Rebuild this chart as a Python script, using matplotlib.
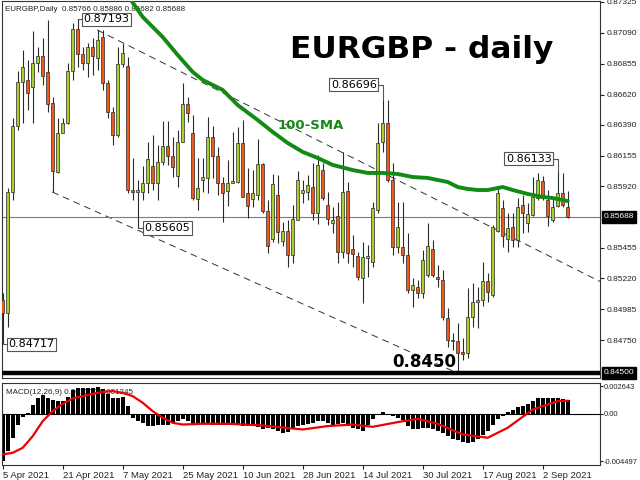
import matplotlib
matplotlib.use("Agg")
import matplotlib.pyplot as plt
import matplotlib.transforms as mtransforms

# daily candles, bar 0 = 5 Apr 2021
opens = [0.85056, 0.84957, 0.85878, 0.86381, 0.86716, 0.86731, 0.86677, 0.86860, 0.86914, 0.86792,
         0.86556, 0.86030, 0.86327, 0.86403, 0.86799, 0.87119, 0.86929, 0.86860, 0.86982, 0.86898,
         0.87058, 0.86708, 0.86487, 0.86312, 0.86853, 0.86837, 0.85893, 0.85878, 0.85878, 0.85946,
         0.86076, 0.85946, 0.86106, 0.86228, 0.86152, 0.86000, 0.86259, 0.86548, 0.86327, 0.85825,
         0.85969, 0.85985, 0.86297, 0.86152, 0.85946, 0.85886, 0.85946, 0.85954, 0.86251, 0.85870,
         0.85825, 0.85855, 0.86091, 0.85733, 0.85520, 0.85855, 0.85505, 0.85581, 0.85398, 0.85665,
         0.85870, 0.85878, 0.85916, 0.85718, 0.86045, 0.85779, 0.85642, 0.85695, 0.85421, 0.85886,
         0.85444, 0.85391, 0.85223, 0.85375, 0.85345, 0.85741, 0.86259, 0.86403, 0.85969, 0.85459,
         0.85459, 0.85398, 0.85132, 0.85155, 0.85109, 0.85246, 0.85444, 0.85231, 0.85208, 0.84918,
         0.84751, 0.84743, 0.84660, 0.84652, 0.84926, 0.85040, 0.85056, 0.85200, 0.85094, 0.85581,
         0.85756, 0.85520, 0.85611, 0.85512, 0.85779, 0.85642, 0.85703, 0.85832, 0.85962, 0.85817,
         0.85665, 0.85771, 0.85870, 0.85766]
highs = [0.85109, 0.85908, 0.86441, 0.86799, 0.86959, 0.86883, 0.87104, 0.86982, 0.87051, 0.87188,
         0.86601, 0.86441, 0.86441, 0.86860, 0.87165, 0.87193, 0.86982, 0.87013, 0.87051, 0.87112,
         0.87112, 0.86731, 0.86525, 0.86982, 0.87013, 0.86906, 0.86137, 0.85969, 0.86076, 0.86259,
         0.86312, 0.86236, 0.86419, 0.86419, 0.86297, 0.86350, 0.86708, 0.86601, 0.86464, 0.86137,
         0.86137, 0.86449, 0.86381, 0.86221, 0.85992, 0.86122, 0.86335, 0.86373, 0.86426, 0.86061,
         0.86045, 0.86282, 0.86099, 0.85817, 0.86015, 0.86007, 0.85649, 0.85665, 0.85779, 0.86038,
         0.85969, 0.86007, 0.86099, 0.86160, 0.86099, 0.85878, 0.85764, 0.85802, 0.86183, 0.85954,
         0.85551, 0.85421, 0.85497, 0.85474, 0.85802, 0.86403, 0.86579, 0.86579, 0.86099, 0.85802,
         0.85802, 0.85566, 0.85223, 0.85208, 0.85436, 0.85642, 0.85512, 0.85322, 0.85284, 0.84995,
         0.84804, 0.84880, 0.84766, 0.85147, 0.85185, 0.85155, 0.85345, 0.85261, 0.85627, 0.85908,
         0.85817, 0.85718, 0.85718, 0.85832, 0.85855, 0.85794, 0.85992, 0.86023, 0.86000, 0.85893,
         0.85840, 0.86030, 0.86023, 0.85886]
lows = [0.84717, 0.84850, 0.85817, 0.86350, 0.86403, 0.86502, 0.86403, 0.86792, 0.86693, 0.86487,
        0.85878, 0.86023, 0.86327, 0.86396, 0.86731, 0.86830, 0.86807, 0.86754, 0.86769, 0.86807,
        0.86655, 0.86441, 0.86236, 0.86297, 0.86830, 0.85870, 0.85817, 0.85605, 0.85817, 0.85870,
        0.85893, 0.85817, 0.86084, 0.86084, 0.85992, 0.85916, 0.86259, 0.86411, 0.85817, 0.85741,
        0.85878, 0.85870, 0.85985, 0.85855, 0.85649, 0.85771, 0.85946, 0.85946, 0.85840, 0.85680,
        0.85764, 0.85817, 0.85718, 0.85413, 0.85497, 0.85489, 0.85466, 0.85307, 0.85337, 0.85665,
        0.85794, 0.85817, 0.85665, 0.85634, 0.85817, 0.85627, 0.85566, 0.85337, 0.85375, 0.85337,
        0.85307, 0.85208, 0.85033, 0.85231, 0.85307, 0.85718, 0.86183, 0.85954, 0.85398, 0.85413,
        0.85337, 0.85109, 0.85002, 0.85071, 0.85071, 0.85231, 0.85231, 0.85155, 0.84903, 0.84698,
        0.84675, 0.84507, 0.84599, 0.84614, 0.84850, 0.84842, 0.85010, 0.85040, 0.85078, 0.85573,
        0.85459, 0.85421, 0.85459, 0.85459, 0.85566, 0.85573, 0.85695, 0.85817, 0.85817, 0.85619,
        0.85649, 0.85764, 0.85764, 0.85682]
closes = [0.84957, 0.85878, 0.86381, 0.86716, 0.86830, 0.86632, 0.86860, 0.86914, 0.86761, 0.86548,
          0.86038, 0.86327, 0.86403, 0.86799, 0.87119, 0.86929, 0.86860, 0.86982, 0.86914, 0.87035,
          0.86708, 0.86487, 0.86312, 0.86853, 0.86936, 0.85893, 0.85878, 0.85893, 0.85946, 0.86129,
          0.85946, 0.86106, 0.86228, 0.86152, 0.86068, 0.86259, 0.86548, 0.86480, 0.85832, 0.85908,
          0.85992, 0.86297, 0.86152, 0.85946, 0.85870, 0.85946, 0.85962, 0.86251, 0.85840, 0.85771,
          0.85870, 0.86091, 0.85733, 0.85466, 0.85939, 0.85573, 0.85581, 0.85398, 0.85672, 0.85969,
          0.85893, 0.85931, 0.85718, 0.86084, 0.85832, 0.85672, 0.85665, 0.85421, 0.85878, 0.85413,
          0.85406, 0.85231, 0.85383, 0.85391, 0.85756, 0.86251, 0.86403, 0.85969, 0.85459, 0.85611,
          0.85398, 0.85132, 0.85170, 0.85109, 0.85360, 0.85466, 0.85246, 0.85215, 0.84926, 0.84751,
          0.84743, 0.84652, 0.84644, 0.84926, 0.85040, 0.85056, 0.85200, 0.85116, 0.85611, 0.85870,
          0.85543, 0.85604, 0.85512, 0.85764, 0.85718, 0.85710, 0.85840, 0.85969, 0.85832, 0.85695,
          0.85764, 0.85870, 0.85779, 0.85688]

# 100 SMA, read at some bars
sma_bars = [25, 28, 32, 35, 38, 40, 44, 47, 51, 54, 57, 60, 63, 66, 70, 73, 76, 79, 82, 85,
            89, 91, 93, 95, 97, 100, 102, 105, 108, 110, 113]
sma_vals = [0.87375, 0.87211, 0.87058, 0.86921, 0.86792, 0.86731, 0.86655, 0.86540, 0.86426, 0.86335,
            0.86251, 0.86183, 0.86137, 0.86084, 0.86045, 0.86023, 0.86023, 0.86015, 0.85992, 0.85985,
            0.85954, 0.85916, 0.85901, 0.85893, 0.85893, 0.85916, 0.85893, 0.85863, 0.85840, 0.85832,
            0.85809]

# MACD histogram per bar and signal line
macd_hist = [-0.0045, -0.00355, -0.00228, -0.00102, -0.00032, 0.0001, 0.0008, 0.00152, 0.00175, 0.00146,
             0.00127, 0.00121, 0.00121, 0.00159, 0.00222, 0.00241, 0.00241, 0.00248, 0.00248, 0.00254,
             0.00232, 0.0019, 0.00146, 0.00146, 0.00159, 0.00073, -0.00038, -0.0007, -0.00092, -0.00117,
             -0.00117, -0.00111, -0.00108, -0.00102, -0.00086, -0.0007, -0.00054, -0.0007, -0.00102, -0.00102,
             -0.00095, -0.00086, -0.00102, -0.00108, -0.00108, -0.00108, -0.00102, -0.00108, -0.00117, -0.00117,
             -0.00117, -0.00127, -0.00143, -0.00133, -0.00149, -0.00165, -0.00181, -0.00171, -0.00149, -0.00117,
             -0.00102, -0.00095, -0.00086, -0.0007, -0.0007, -0.00086, -0.00102, -0.00095, -0.00086, -0.00117,
             -0.00133, -0.00149, -0.00159, -0.00102, -0.00054, -0.00006, 0.00019, -0.00006, -0.00022, -0.00038,
             -0.00063, -0.00117, -0.00149, -0.00149, -0.00133, -0.00133, -0.00149, -0.00165, -0.00181, -0.00213,
             -0.00244, -0.00254, -0.0027, -0.00282, -0.0027, -0.00238, -0.00203, -0.00159, -0.00102, -0.00048,
             -0.00022, 0.00016, 0.00032, 0.00063, 0.00079, 0.00095, 0.00121, 0.00146, 0.00152, 0.00146,
             0.00146, 0.00146, 0.0014, 0.0013]
sig_bars = [0, 2, 4, 6, 8, 10, 12, 14, 16, 18, 20, 22, 24, 26, 28, 30, 32, 34, 36, 40,
            45, 52, 58, 60, 65, 70, 74, 79, 83, 87, 92, 97, 101, 106, 111, 113]
sig_vals = [-0.00387, -0.00371, -0.00324, -0.00213, -0.0007, 0.00025, 0.00095, 0.00146, 0.00168, 0.0019,
            0.00209, 0.00216, 0.002, 0.00168, 0.00105, 0.00025, -0.00038, -0.00086, -0.00102, -0.00095,
            -0.00095, -0.00111, -0.0014, -0.00149, -0.00117, -0.00102, -0.00124, -0.00079, -0.00048, -0.00095,
            -0.00197, -0.00228, -0.00133, 0.00041, 0.00121, 0.00124]

date_bars = [0, 12, 24, 36, 48, 60, 72, 84, 96, 108]
date_labels = ['5 Apr 2021', '21 Apr 2021', '7 May 2021', '25 May 2021', '10 Jun 2021',
               '28 Jun 2021', '14 Jul 2021', '30 Jul 2021', '17 Aug 2021', '2 Sep 2021']
price_ticks = [0.87325, 0.87090, 0.86855, 0.86620, 0.86390, 0.86155, 0.85920,
               0.85455, 0.85220, 0.84985, 0.84750]

# marked levels and notes
last_price = 0.85688
support = 0.8450
channel_up = ([18.9, 119.5], [0.87112, 0.85196])
channel_lo = ([9.9, 90.5], [0.85878, 0.84507])
# (bar, price at candle, label x, side, label value)
price_notes = [(15, 0.87193, 16.1, 'left', 0.87193),
               (27, 0.85605, 28.4, 'left', 0.85605),
               (0, 0.84717, 1.2, 'left', 0.84717),
               (76, 0.86579, 74.8, 'right', 0.86696),
               (111, 0.86030, 109.8, 'right', 0.86133)]

BULL = '#a8cf2e'
BEAR = '#ec5a1c'
EDGE = '#2a2a2a'
SMALL = 'Liberation Sans'

fig = plt.figure(figsize=(6.4, 4.8), dpi=100)
ax = fig.add_axes([2 / 640, 1 - 378 / 480, 598 / 640, 377 / 480])
ax2 = fig.add_axes([2 / 640, 1 - 465 / 480, 598 / 640, 82 / 480])

n = len(closes)
bars = list(range(n))

# candles
for i in bars:
    o, h, l, c = opens[i], highs[i], lows[i], closes[i]
    col = BULL if c >= o else BEAR
    ax.vlines(i, l, h, color=EDGE, lw=0.8, zorder=2)
    lo_b, hi_b = min(o, c), max(o, c)
    if hi_b - lo_b < 0.00004:
        hi_b = lo_b + 0.00004
    ax.bar(i, hi_b - lo_b, bottom=lo_b, width=0.62, color=col, edgecolor=EDGE, lw=0.5, zorder=3)

ax.plot(sma_bars, sma_vals, color='#138a13', lw=2.8, zorder=4, solid_capstyle='round')
ax.plot(*channel_up, color='#333333', lw=0.7, ls=(0, (7, 5)), zorder=1)
ax.plot(*channel_lo, color='#333333', lw=0.7, ls=(0, (7, 5)), zorder=1)
ax.axhline(last_price, color='#7272c8', lw=0.8, zorder=1)
ax.axhline(support, color='black', lw=3.2, zorder=5)

for bar, py, tx, side, val in price_notes:
    ax.plot([bar, bar, tx], [py, val, val], color='#555555', lw=0.8, zorder=5)
    ax.text(tx, val, '%.5f' % val, ha=side, va='center', fontsize=8, color='black', zorder=6,
            bbox=dict(boxstyle='square,pad=0.15', fc='white', ec='#555555', lw=0.8))

ax.text(54.9, 0.86388, '100-SMA', color='#138a13', fontsize=9.5, fontweight='bold', va='center')
ax.text(78.0, 0.84583, '0.8450', color='black', fontsize=12, fontweight='bold', va='center')
fig.text(0.453, 1 - 50 / 480, 'EURGBP - daily', fontsize=22.5, fontweight='bold', va='center')
ax.text(0.005, 0.988, 'EURGBP,Daily  0.85766 0.85886 0.85682 0.85688', transform=ax.transAxes,
        fontsize=5.8, family=SMALL, va='top', color='#222222')

ax.set_xlim((2 - 2.7) / 5, (600 - 2.7) / 5)
ax.set_ylim(0.844615, 0.873324)
ax.yaxis.tick_right()
ax.set_yticks(price_ticks)
ax.set_yticklabels(['%.5f' % p for p in price_ticks], family=SMALL)
ax.tick_params(axis='y', labelsize=6, length=3, colors='#222222', pad=2)
ax.set_xticks([])

trans = mtransforms.blended_transform_factory(ax.transAxes, ax.transData)
for lvl in [last_price, 0.84500]:
    ax.text(1.006, lvl, '%.5f' % lvl, transform=trans, fontsize=6, family=SMALL, color='white',
            va='center', bbox=dict(boxstyle='square,pad=0.25', fc='black', ec='black'), clip_on=False)

# MACD panel
ax2.bar(bars, macd_hist, width=0.75, color='black', zorder=2)
ax2.plot(sig_bars, sig_vals, color='#ee0000', lw=1.6, zorder=3)
ax2.axhline(0, color='black', lw=0.8, zorder=2)
ax2.text(0.006, 0.93, 'MACD(12,26,9) 0.001300 0.001245', transform=ax2.transAxes, fontsize=5.8,
         family=SMALL, va='top', color='#222222', zorder=1)
ax2.set_xlim((2 - 2.7) / 5, (600 - 2.7) / 5)
ax2.set_ylim(-0.004874, 0.002932)
ax2.yaxis.tick_right()
ax2.set_yticks([0.002643, 0.0, -0.004497])
ax2.set_yticklabels(['0.002643', '0.00', '-0.004497'], family=SMALL)
ax2.tick_params(axis='y', labelsize=5.4, length=2, colors='#222222', pad=1)
ax2.set_xticks(date_bars)
ax2.set_xticklabels(date_labels, ha='left', family=SMALL)
ax2.tick_params(axis='x', labelsize=6.8, length=3, colors='#222222', pad=1)

for a in (ax, ax2):
    for s in a.spines.values():
        s.set_color('#333333')
        s.set_linewidth(0.8)

fig.savefig('out.png', dpi=100)
